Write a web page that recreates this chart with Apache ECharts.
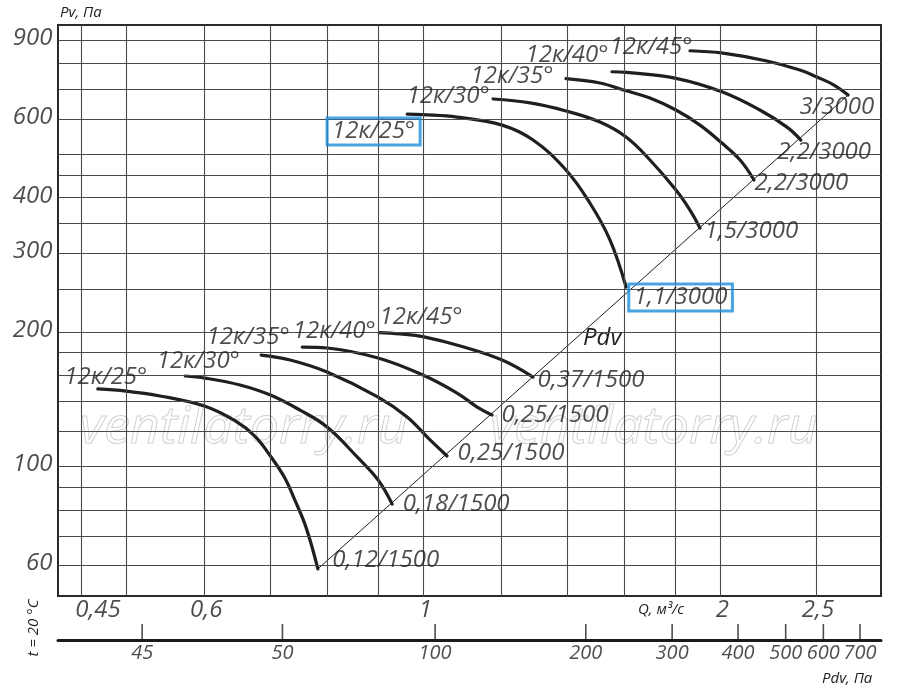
<!DOCTYPE html>
<html>
<head>
<meta charset="utf-8">
<script src="https://cdn.jsdelivr.net/npm/echarts/dist/echarts.min.js"></script>
<style>
html,body{margin:0;padding:0;background:#fff;}
#c{width:900px;height:691px;}
</style>
</head>
<body>
<div id="c"></div>
<script>
// ---------- DATA ----------
// Q, m3/s (log axis) labels and grid lines
const qTickLabels = [0.45, 0.6, 1, 2, 2.5];
const qGrid = [0.45, 0.5, 0.6, 0.7, 0.8, 0.9, 1, 1.2, 1.4, 1.6, 1.8, 2, 2.5];
// Pv, Pa (log axis) labels and grid lines
const pvTickLabels = [60, 100, 200, 300, 400, 600, 900];
const pvGrid = [60, 70, 80, 90, 100, 120, 140, 160, 180, 200, 250, 300, 350, 400, 450, 500, 600, 700, 800, 900];
// Pdv, Pa scale: labels and where they sit on the Q scale
const pdvTickLabels = [45, 50, 100, 200, 300, 400, 500, 600, 700];
const pdvTickQ = [0.519, 0.72, 1.028, 1.461, 1.787, 2.084, 2.329, 2.543, 2.77];

const curveNames = ['12к/25°', '12к/30°', '12к/35°', '12к/40°', '12к/45°'];
const lowPower = ['0,12/1500', '0,18/1500', '0,25/1500', '0,25/1500', '0,37/1500'];
const highPower = ['1,1/3000', '1,5/3000', '2,2/3000', '2,2/3000', '3/3000'];

// 1500 rpm curves [Q, Pv]
const low25 = [[0.468,149.2],[0.500,147.6],[0.541,143.9],[0.600,136.6],[0.645,126.5],[0.675,117.0],[0.700,105.6],[0.724,94.3],[0.741,84.2],[0.761,72.9],[0.782,59.0]];
const low30 = [[0.574,159.5],[0.601,157.8],[0.652,152.3],[0.700,144.6],[0.750,133.8],[0.799,122.6],[0.857,105.1],[0.900,93.3],[0.930,82.4]];
const low35 = [[0.685,177.7],[0.733,173.2],[0.799,162.8],[0.900,143.1],[0.963,129.1],[1.016,114.7],[1.057,105.6]];
const low40 = [[0.754,185.2],[0.799,184.3],[0.900,175.0],[0.999,160.3],[1.082,146.1],[1.134,135.9],[1.174,130.5]];
const low45 = [[0.902,199.4],[0.947,198.1],[0.999,195.4],[1.097,185.5],[1.202,173.2],[1.292,158.6]];
// 3000 rpm curves [Q, Pv]
const high25 = [[0.963,615.6],[0.999,613.9],[1.082,606.0],[1.202,581.4],[1.292,538.3],[1.395,461.3],[1.475,389.1],[1.546,321.4],[1.605,252.3]];
const high30 = [[1.177,665.3],[1.283,651.8],[1.395,625.4],[1.510,590.6],[1.605,546.8],[1.697,485.7],[1.803,416.1],[1.863,375.2],[1.907,342.0]];
const high35 = [[1.395,738.8],[1.510,722.3],[1.605,693.9],[1.697,668.6],[1.803,628.5],[1.907,581.4],[2.007,530.0],[2.094,485.7],[2.163,438.2]];
const high40 = [[1.553,765.5],[1.605,763.3],[1.803,740.1],[2.007,690.5],[2.193,628.5],[2.336,575.4],[2.413,538.3]];
const high45 = [[1.863,853.1],[2.012,842.6],[2.229,809.4],[2.408,772.5],[2.505,745.0],[2.607,714.8],[2.694,678.7]];
// dynamic pressure line Pdv (end points)
const pdvLine = [[0.782,59.0],[2.694,678.7]];

// ---------- LAYOUT / STYLE ----------
const Q_MIN = 0.4265, Q_MAX = 2.909, P_MIN = 51.31, P_MAX = 974.2;
const FONT = "'Open Sans','Noto Sans',sans-serif";
const INK = '#1f1f1f';
const BLUE = '#1b8fd9';
const GRID_L = 58, GRID_T = 25, GRID_W = 823, GRID_H = 571;

const curveSets = [
  {d: low25, n: curveNames[0], p: lowPower[0]},
  {d: low30, n: curveNames[1], p: lowPower[1]},
  {d: low35, n: curveNames[2], p: lowPower[2]},
  {d: low40, n: curveNames[3], p: lowPower[3]},
  {d: low45, n: curveNames[4], p: lowPower[4]},
  {d: high25, n: curveNames[0], p: highPower[0]},
  {d: high30, n: curveNames[1], p: highPower[1]},
  {d: high35, n: curveNames[2], p: highPower[2]},
  {d: high40, n: curveNames[3], p: highPower[3]},
  {d: high45, n: curveNames[4], p: highPower[4]}
];
// label placement (pixels relative to curve start / end)
const nameOffsets  = [[-33,-11],[-28,-14],[-54,-17],[-9,-15],[1,-15],[-33,18],[-86,-2],[-95,-2],[-86,-16],[-80,-3]];
const powerOffsets = [[15,-8],[11,1],[11,-2],[10,1],[5,4],[55,11],[5,4],[1,4],[-23,13],[-48,13]];
const nameBoxed  = [false,false,false,false,false,true,false,false,false,false];
const powerBoxed = [false,false,false,false,false,true,false,false,false,false];

const txt = (size) => ({fontStyle: 'italic', fontSize: size, fontFamily: FONT, color: INK});
const fmt = v => String(v).replace('.', ',');

function labelItem(pt, text, off, boxed) {
  const lab = Object.assign({
    show: true, formatter: text, position: off,
    align: boxed ? 'center' : 'left', verticalAlign: 'middle'
  }, txt(24));
  if (boxed) Object.assign(lab, {borderColor: BLUE, borderWidth: 3, padding: [2, 5, 1, 5], lineHeight: 24});
  return {value: pt, label: lab};
}

const series = [];

// Pdv line (carries grid lines as markLines)
series.push({
  type: 'line', xAxisIndex: 0, yAxisIndex: 0, data: pdvLine, symbol: 'none',
  lineStyle: {color: INK, width: 1}, z: 3, silent: true,
  markLine: {
    silent: true, symbol: ['none', 'none'], label: {show: false},
    lineStyle: {color: '#4a4a4a', width: 1.1, type: 'solid'},
    emphasis: {disabled: true},
    data: pvGrid.map(v => ({yAxis: v})).concat(qGrid.map(v => ({xAxis: v})))
  }
});

// curves
curveSets.forEach(c => {
  series.push({
    type: 'line', xAxisIndex: 0, yAxisIndex: 0, data: c.d, symbol: 'none',
    smooth: 0.4, silent: true, z: 4,
    lineStyle: {color: INK, width: 3.2, cap: 'round'}
  });
});

// curve labels
const labelData = [];
curveSets.forEach((c, i) => {
  labelData.push(labelItem(c.d[0], c.n, nameOffsets[i], nameBoxed[i]));
  labelData.push(labelItem(c.d[c.d.length - 1], c.p, powerOffsets[i], powerBoxed[i]));
});
series.push({
  type: 'scatter', xAxisIndex: 0, yAxisIndex: 0, data: labelData, symbolSize: 1,
  itemStyle: {color: 'rgba(0,0,0,0)'}, clip: false, silent: true, z: 6
});

// Pv axis labels
series.push({
  type: 'scatter', xAxisIndex: 0, yAxisIndex: 0, symbolSize: 1, clip: false, silent: true,
  itemStyle: {color: 'rgba(0,0,0,0)'},
  data: pvTickLabels.map(v => [Q_MIN, v]),
  label: Object.assign({show: true, position: 'left', distance: 5, offset: [0, -2],
    formatter: p => String(p.value[1])}, txt(24))
});

// Q axis labels
series.push({
  type: 'scatter', xAxisIndex: 0, yAxisIndex: 0, symbolSize: 1, clip: false, silent: true,
  itemStyle: {color: 'rgba(0,0,0,0)'},
  data: qTickLabels.map(v => ({value: [v, P_MIN], label: {offset: [v === 0.45 ? 17 : 2, 14]}})),
  label: Object.assign({show: true, position: 'inside', align: 'center', verticalAlign: 'middle',
    formatter: p => fmt(p.value[0])}, txt(24))
});

// Pdv scale ticks + labels
series.push({
  type: 'scatter', xAxisIndex: 1, yAxisIndex: 1, clip: false, silent: true,
  symbol: 'rect', symbolSize: [1.6, 16], symbolOffset: [0, -2],
  itemStyle: {color: INK},
  data: pdvTickQ.map((q, i) => ({value: [q, 0.5], name: String(pdvTickLabels[i])})),
  label: Object.assign({show: true, position: 'bottom', distance: 3,
    formatter: p => p.name}, txt(20))
});

const option = {
  animation: false,
  backgroundColor: '#fff',
  grid: [
    {left: GRID_L, top: GRID_T, width: GRID_W, height: GRID_H, show: true,
     borderColor: '#2a2a2a', borderWidth: 2, backgroundColor: 'transparent'},
    {left: GRID_L, top: 628, width: GRID_W, height: 12}
  ],
  xAxis: [
    {type: 'log', gridIndex: 0, min: Q_MIN, max: Q_MAX, show: false, splitLine: {show: false}},
    {type: 'log', gridIndex: 1, min: Q_MIN, max: Q_MAX, position: 'top',
     axisLine: {show: true, lineStyle: {color: '#1a1a1a', width: 3}},
     axisTick: {show: false}, axisLabel: {show: false}, splitLine: {show: false}}
  ],
  yAxis: [
    {type: 'log', gridIndex: 0, min: P_MIN, max: P_MAX, show: false, splitLine: {show: false}},
    {type: 'value', gridIndex: 1, min: 0, max: 1, show: false, splitLine: {show: false}}
  ],
  graphic: [
    {type: 'text', x: 80, y: 428, z: 1, silent: true,
     style: {text: 'ventilatorry.ru', font: `italic 52px ${FONT}`, fill: 'rgba(255,255,255,0)',
             stroke: '#d2d2d2', lineWidth: 1, verticalAlign: 'middle'}},
    {type: 'text', x: 490, y: 428, z: 1, silent: true,
     style: {text: 'ventilatorry.ru', font: `italic 52px ${FONT}`, fill: 'rgba(255,255,255,0)',
             stroke: '#d2d2d2', lineWidth: 1, verticalAlign: 'middle'}},
    {type: 'text', x: 60, y: 13, style: {text: 'Pv, Па', font: `italic 15px ${FONT}`, fill: INK, verticalAlign: 'middle'}},
    {type: 'text', x: 638, y: 610, style: {text: 'Q, м³/с', font: `italic 15px ${FONT}`, fill: INK, verticalAlign: 'middle'}},
    {type: 'text', x: 822, y: 679, style: {text: 'Pdv, Па', font: `italic 15px ${FONT}`, fill: INK, verticalAlign: 'middle'}},
    {type: 'text', x: 34, y: 628, rotation: Math.PI / 2,
     style: {text: 't = 20 °C', font: `italic 15px ${FONT}`, fill: INK, align: 'center', verticalAlign: 'middle'}},
    {type: 'text', x: 583, y: 338, style: {text: 'Pdv', font: `italic 24px ${FONT}`, fill: INK, verticalAlign: 'middle'}}
  ],
  series: series
};

const chart = echarts.init(document.getElementById('c'));
chart.setOption(option);
</script>
</body>
</html>
